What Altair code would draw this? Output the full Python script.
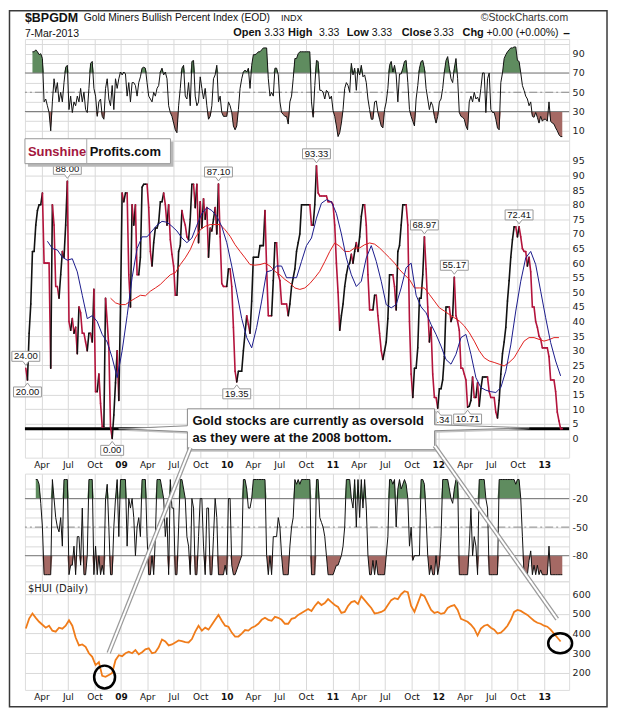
import altair as alt
import numpy as np
import pandas as pd

# ---------------- data ----------------
# every series was read at a regular spacing of ~5.735 days
GRID_START = "2008-02-07"
GRID_FREQ = "8258min"
GRID_LEN = 324

# $BPGDM close (main panel)
BPGDM = [
    24, 20, 36, 46, 64, 64, 73, 78, 80, 80,
    84, 60, 60, 60, 60, 24, 80, 73, 52, 52,
    48, 56, 64, 62, 73, 88, 40, 37, 41, 36,
    38, 29, 45, 43, 36, 36, 33, 30, 36, 36,
    33, 51, 16, 16, 22, 12, 4, 4, 48, 40,
    31, 4, 0, 8, 19, 30, 13, 45, 84, 81,
    84, 84, 56, 45, 80, 73, 80, 56, 56, 62,
    86, 87, 87, 87, 79, 64, 59, 67, 72, 72,
    74, 81, 81, 84, 80, 73, 80, 68, 63, 59,
    49, 49, 64, 66, 78, 75, 73, 69, 68, 75,
    87, 87, 79, 87, 67, 81, 72, 82, 75, 79,
    62, 72, 71, 75, 79, 70, 87.1, 69, 53, 52,
    52, 52, 58, 58, 52, 38, 23, 19.35, 23, 23,
    23, 30, 36, 42, 39, 36, 47, 62, 62, 62,
    62, 66, 66, 66, 78, 58, 42, 42, 42, 54,
    67, 67, 56, 54, 46, 46, 46, 46, 42, 46,
    52, 55, 58, 64, 67, 70, 80, 80, 80, 80,
    80, 80,
    73, 73, 80, 93.33, 84, 83, 83, 83, 83, 83,
    81, 81, 81, 80, 73, 60, 50, 37, 42, 46,
    52, 56, 59, 60, 63, 60, 64, 67, 64, 69,
    76, 80, 80, 73, 56, 44, 44, 44, 49, 49,
    42, 36, 30, 27, 30, 33, 41, 56, 56, 56,
    52, 44, 64, 66, 73, 80, 80, 80, 73, 40,
    22, 14, 24, 24, 31, 48, 48, 56, 68.97, 58,
    45, 33, 38, 22, 14, 14, 10.34, 17, 17, 20,
    28, 45, 45, 45, 40, 42, 55.17, 42, 40, 37,
    24, 24, 22, 20, 10.71, 11, 13, 21, 14, 14,
    19, 11, 17, 21, 21, 21, 21, 16, 14, 14,
    14, 9, 7, 13, 22, 29, 33, 38, 47, 54,
    62, 68, 72.4, 72.4, 69, 72.41, 69, 65, 64, 64,
    59, 62, 57, 45, 45, 40, 38, 35, 34, 31,
    31, 31, 31, 28, 20, 20, 20, 16, 9, 6,
    3.33, 3.33,
]

# short moving average (blue), every 3rd grid step from step 13
MA_FAST = [
    67.5, 65, 64.5, 62, 61, 61.5, 57, 49, 41, 42,
    40, 35.6, 33, 27.6, 20.8, 30, 42, 55, 65, 69,
    69, 71, 73, 74.3, 74, 72.6, 71, 68.6, 67, 68.6,
    73, 77, 79, 78, 76, 72.5, 67, 59, 50, 41,
    34.5, 31, 38, 47, 57, 57.5, 59, 59, 55, 55,
    55, 60.6, 66, 68.6, 75.4, 80.5, 81.7, 81, 77, 70,
    61.8, 56, 52, 53.8, 61.8, 66, 60.6, 53.8, 45.8, 44.7,
    45.8, 51.5, 58.4, 60, 49, 45, 43, 39, 35.6, 31.6,
    27, 25.4, 28.8, 34.5, 35.6, 28.8, 20.8, 17.4, 16.5, 16,
    15.7, 17.4, 23, 32, 43.6, 53.8, 61.8, 64, 59.5, 50.4,
    41.3, 32.8, 26.5, 21.4,
]

# long moving average (red), every 3rd grid step from step 51
MA_SLOW = [
    48, 46.4, 45.8, 45.8, 47, 48, 49, 48.8, 50.4, 51.5,
    52.7, 54.4, 56, 56.7, 59.5, 61.8, 64.6, 68.6, 71.4, 72.6,
    73.2, 73.2, 73.2, 71.4, 69.2, 66.3, 64, 61.8, 59.5, 59.3,
    59.5, 60, 59, 57.2, 56, 54.4, 53.2, 51.5, 51, 51.5,
    53, 55, 57.2, 60.5, 64, 66.9, 65.8, 64, 64, 65.2,
    65.2, 66.3, 66.9, 66.5, 65.2, 63.5, 61.8, 60, 57.8, 56,
    54.4, 51.5, 51.5, 51.5, 49.3, 47, 44.7, 43.6, 42.4, 41.3,
    40.2, 38.5, 36.2, 33.3, 30, 27.6, 26.5, 26, 25.4, 24.8,
    26, 27.6, 30.5, 33.3, 34.5, 34.5, 33.9, 33.3, 33.8, 34.5,
    34.5,
]

# top oscillator (0-100), from grid step 4
OSC = [
    92, 92, 94, 92, 89, 90, 85, 40, 43, 36,
    29, 10, 40, 64, 50, 60, 40, 50, 40, 60,
    76, 78, 32, 46, 29, 40, 36, 46, 40, 54,
    40, 50, 32, 29, 54, 80, 82, 54, 46, 25,
    40, 43, 25, 22, 54, 64, 43, 36, 57, 32,
    64, 54, 64, 71, 68, 71, 69, 46, 60, 40,
    60, 60, 57, 46, 60, 66, 75, 76, 75, 60,
    46, 43, 40, 50, 46, 54, 57, 71, 75, 68,
    71, 64, 36, 29, 25, 18, 11, 8, 36, 54,
    75, 78, 46, 43, 60, 36, 82, 83, 46, 36,
    40, 66, 54, 43, 54, 36, 22, 25, 36, 64,
    68, 78, 40, 46, 29, 25, 25, 25, 40, 36,
    29, 15, 11, 15, 32, 54, 64, 71, 73, 71,
    75, 54, 78, 89, 89, 90, 92, 92, 94, 96,
    96, 96, 64, 46, 50, 46, 75, 75, 68, 40,
    29, 27, 25, 25, 17, 40, 46, 64, 85, 85,
    90, 92, 92, 92, 92, 92, 92, 92,
    40, 24, 57, 83, 82, 52, 52, 50, 43, 52,
    50, 43, 46, 31, 25, 15, 4, 8, 18, 32,
    54, 60, 57, 50, 80, 68, 75, 52, 75, 68,
    78, 66, 68, 60, 43, 32, 22, 22, 40, 41,
    29, 22, 15, 13, 32, 40, 54, 78, 82, 71,
    78, 68, 40, 69, 69, 75, 82, 83, 60, 32,
    25, 20, 15, 43, 57, 75, 82, 83, 75, 54,
    43, 32, 40, 36, 25, 18, 25, 40, 43, 54,
    71, 83, 87, 75, 64, 60, 75, 85, 64, 29,
    25, 24, 22, 15, 11, 40, 46, 40, 50, 43,
    45, 40, 54, 70, 70, 29, 64, 70, 32, 29,
    29, 22, 13, 11, 60, 70, 85, 89, 92, 94,
    96, 96, 97, 97, 83, 82, 70, 57, 52, 46,
    43, 36, 40, 25, 24, 29, 24, 18, 25, 20,
    22, 22, 20, 40, 20, 18, 17, 13, 10, 6,
    4, 4,
]

# %R style oscillator (0 to -100), from grid step 6
WILLR = [
    0, 0, -5, -25, -50, -100, -100, -100, -100, -100,
    0, -20, -40, -50, -55, -40, -70, 0, 0, 0,
    -100, -90, -90, -70, -100, -60, -60, -90, -30, -100,
    -100, -80, 0, 0, 0, -100, -70, -100, -80, -100,
    -90, -100, -20, -5, -50, -100, -100, -50, -20, 0,
    -60, 0, 0, 0, 0, -70, -20, -30, -20, -40,
    -80, -50, -40, -60, 0, 0, 0, -60, -100, -100,
    -80, -100, -60, 0, 0, 0, -10, -20, -60, -40,
    -100, 0, -30, -30, -100, -100, -50, 0, 0, -10,
    -20, -60, -70, -100, -20, -30, -100, -100, -60, -20,
    -20, -70, -100, -30, -30, -100, -100, -60, -20, -40,
    -100, -100, -100, -100, -90, -100, -20, -20, -90, -100,
    -100, -95, -90, -85, -80, 0, 0, -10, -30, -30,
    -20, 0, 0, 0, 0, 0, 0, 0, 0, -80,
    -100, -80, -100, -60, -60, -60, -40, -50, -80, -100,
    -100, -100, -100, -70, -50, -40, 0, -5, 0, -5,
    0, 0, 0, 0, 0, 0,
    -100, -100, -100, 0, 0, -40, -45, -50, -60, -80,
    -100, -100, -100, -100, -95, -90, -90, -85, -80, -70,
    -50, 0, 0, 0, -20, -30, 0, -50, 0, -40,
    0, -30, 0, -30, -80, -100, -100, -85, -100, -85,
    -100, -100, -100, -100, -100, -80, -60, 0, 0, -5,
    0, -50, -10, 0, -10, -5, 0, -5, -20, -70,
    -50, -85, -80, -80, -80, -80, 0, 0, -5, -40,
    -80, -100, -90, -100, -100, -80, -100, -90, -60, 0,
    0, 0, 0, -10, -20, -25, -10, 0, 0, -100,
    -100, -100, -100, -100, -100, -70, -30, -80, -60, -70,
    -100, 0, 0, 0, 0, -20, -30, -100, -100, -100,
    -100, -100, -100, 0, 0, 0, 0, 0, 0, 0,
    0, 0, 0, -5, 0, 0, -20, -60, -100, -100,
    -100, -85, -75, -100, -90, -100, -90, -100, -95, -100,
    -100, -100, -100, -70, -100, -100, -100, -100, -100, -100,
    -100, -100,
]

# $HUI daily, every 2nd grid step
HUI = [
    426, 476, 502, 480, 460, 445, 430, 440, 415, 410,
    430, 425, 440, 468, 440, 380, 340, 345, 333, 300,
    282, 240, 255, 185, 180, 190, 200, 265, 290, 285,
    300, 308, 300, 316, 295, 305, 320, 325, 300, 305,
    330, 370, 360, 340, 345, 355, 365, 362, 357, 355,
    372, 410, 440, 415, 430, 420, 445, 470, 495, 465,
    440, 435, 405, 385, 385, 400, 418, 415, 430, 437,
    450, 470, 480, 470, 465, 485, 480, 470, 450, 450,
    475, 480, 495, 505, 515, 525, 515, 540, 560, 545,
    555, 575, 560, 545, 535, 505, 510, 540, 560, 565,
    550, 590, 570, 550, 530, 502, 505, 510, 520, 545,
    570, 580, 575, 600, 615, 610, 540, 510, 555, 600,
    590, 555, 520, 505, 510, 500, 505, 530, 540, 545,
    520, 475, 468, 460, 445, 425, 390, 425, 440, 445,
    430, 420, 400, 405, 420, 440, 470, 510, 520, 515,
    505, 495, 480, 465, 455, 450, 440, 435, 420, 400,
    380, 360,
]

LABEL_TEXT = ["24.00", "20.00", "88.00", "0.00", "87.10", "19.35",
              "93.33", "68.97", "10.34", "55.17", "10.71", "72.41"]
LABEL_VALUE = [24, 20, 88, 0, 87.1, 19.35, 93.33, 68.97, 10.34, 55.17, 10.71, 72.41]
LABEL_SIDE = ["above", "below", "above", "below", "above", "below",
              "above", "above", "below", "above", "below", "above"]

CIRCLE_DATES = ["2008-11-05", "2013-02-25"]
CIRCLE_HUI = [179, 351]

QUARTERS = [(2008, 4), (2008, 7), (2008, 10)] + \
    [(y, m) for y in range(2009, 2013) for m in (1, 4, 7, 10)] + [(2013, 1)]

# ---------------- frames ----------------
grid = pd.date_range(GRID_START, periods=GRID_LEN, freq=GRID_FREQ)

main = pd.DataFrame({"date": grid[:len(BPGDM)], "v": BPGDM})
dirs, prev = [], "up"
for a, b in zip(BPGDM[:-1], BPGDM[1:]):
    if b > a:
        prev = "up"
    elif b < a:
        prev = "down"
    dirs.append(prev)
seg = pd.DataFrame({"date": main["date"].iloc[:-1].values, "date2": main["date"].iloc[1:].values,
                    "v": BPGDM[:-1], "v2": BPGDM[1:], "dir": dirs})

fast = pd.DataFrame({"date": grid[13::3][:len(MA_FAST)], "v": MA_FAST})
slow = pd.DataFrame({"date": grid[51::3][:len(MA_SLOW)], "v": MA_SLOW})

osc = pd.DataFrame({"date": grid[4:4 + len(OSC)], "v": OSC})
osc["hi"] = np.maximum(osc["v"], 70)
osc["lo"] = np.minimum(osc["v"], 30)

wr = pd.DataFrame({"date": grid[6:6 + len(WILLR)], "v": WILLR})
wr["hi"] = np.maximum(wr["v"], -20)
wr["lo"] = np.minimum(wr["v"], -80)

hui = pd.DataFrame({"date": grid[0::2][:len(HUI)], "v": HUI})

rows = []
for t, lv, side in zip(LABEL_TEXT, LABEL_VALUE, LABEL_SIDE):
    i = next(k for k, v in enumerate(BPGDM) if abs(v - lv) < 1e-9)
    hw = round((len(t.replace(".", "")) * 0.556 + 0.278) * 4.6 + 2.5, 1)
    if side == "above":
        p = f"M {-hw} -17 H {hw} V -7 H 3 L 0 -3 L -3 -7 H {-hw} Z"
    else:
        p = f"M {-hw} 17 H {hw} V 7 H 3 L 0 3 L -3 7 H {-hw} Z"
    rows.append({"date": grid[i], "v": lv, "text": t, "side": side, "path": p})
labels = pd.DataFrame(rows)

circ = pd.DataFrame({"date": pd.to_datetime(CIRCLE_DATES), "v": CIRCLE_HUI,
                     "path": ["M -10.5 0 A 10.5 11.5 0 1 0 10.5 0 A 10.5 11.5 0 1 0 -10.5 0 Z",
                              "M -12 0 A 12 10 0 1 0 12 0 A 12 10 0 1 0 -12 0 Z"]})

ONE = pd.DataFrame({"k": [0]})

# ---------------- styling ----------------
SANS = "Arial, 'Liberation Sans', sans-serif"
AXF = "'DejaVu Sans', Verdana, sans-serif"
GRID_C = "#d9d9d9"
GREEN = "#5f8c5f"
BROWN = "#a56964"
W = 546

XSCALE = alt.Scale(domain=[alt.DateTime(year=2008, month=2, date=4),
                           alt.DateTime(year=2013, month=3, date=28)], nice=False)
QTICKS = [alt.DateTime(year=y, month=m, date=1) for y, m in QUARTERS]
AX_X_GRID = alt.Axis(values=QTICKS, grid=True, gridColor=GRID_C, labels=False,
                     ticks=False, domain=False, title=None)
AX_X_LAB = alt.Axis(values=QTICKS, grid=True, gridColor=GRID_C, ticks=False, domain=False,
                    title=None, labelOverlap=False, labelPadding=3, labelFont=AXF,
                    labelFontSize=9, labelColor="#111",
                    labelExpr="month(datum.value) == 0 ? timeFormat(datum.value, '%y') : timeFormat(datum.value, '%b')",
                    labelFontWeight={"condition": {"test": "month(datum.value) == 0", "value": "bold"},
                                     "value": "normal"})


def yaxis(values, expr=None):
    kw = dict(orient="right", values=values, grid=True, gridColor=GRID_C, ticks=False,
              domain=False, title=None, labelPadding=3, labelFont=AXF, labelFontSize=9.5,
              labelColor="#222")
    if expr:
        kw["labelExpr"] = expr
    return alt.Axis(**kw)


def txt(s, x, y, size, weight="normal", align="left", color="#111", font=SANS):
    return alt.Chart(ONE).mark_text(text=s, fontSize=size, fontWeight=weight, align=align,
                                    baseline="middle", color=color, font=font).encode(
        x=alt.value(x), y=alt.value(y))


# ---------------- panel 1: oscillator ----------------
YS1 = alt.Scale(domain=[-0.3, 105.2], nice=False, zero=False)
AY1 = yaxis(list(range(10, 101, 10)), "datum.value % 20 == 10 ? datum.label : ''")
X1 = alt.X("date:T", scale=XSCALE, axis=AX_X_GRID)

p1_base = alt.Chart(osc)
p1 = alt.layer(
    p1_base.mark_area(color=GREEN).encode(x=X1, y=alt.Y("hi:Q", scale=YS1, axis=AY1), y2=alt.datum(70)),
    p1_base.mark_area(color=BROWN).encode(x=X1, y=alt.Y("lo:Q", scale=YS1, axis=AY1), y2=alt.datum(30)),
    alt.Chart(pd.DataFrame({"y": [70, 30]})).mark_rule(color="#7d7d7d", strokeWidth=1).encode(
        y=alt.Y("y:Q", scale=YS1, axis=AY1)),
    alt.Chart(pd.DataFrame({"y": [50]})).mark_rule(color="#8a8a8a", strokeWidth=1, strokeDash=[8, 3, 2, 3]).encode(
        y=alt.Y("y:Q", scale=YS1, axis=AY1)),
    p1_base.mark_line(color="#111", strokeWidth=1).encode(x=X1, y=alt.Y("v:Q", scale=YS1, axis=AY1)),
    # frame and header
    alt.Chart(ONE).mark_rect(fillOpacity=0, stroke="#3a3a3a", strokeWidth=1.5).encode(
        x=alt.value(-15.5), x2=alt.value(584), y=alt.value(-28.5), y2=alt.value(670)),
    txt("$BPGDM", 0, -21, 12.5, "bold"),
    txt("Gold Miners Bullish Percent Index (EOD)", 59, -21, 10.3),
    txt("INDX", 257, -21, 9),
    txt("\u00a9StockCharts.com", 545, -21, 10.5, align="right", color="#333"),
    txt("7-Mar-2013", 0, -5, 10.5),
    txt("Open", 209, -6, 11, "bold"),
    txt("3.33", 240, -6, 10.5),
    txt("High", 264, -6, 11, "bold"),
    txt("3.33", 295, -6, 10.5),
    txt("Low", 323, -6, 11, "bold"),
    txt("3.33", 348, -6, 10.5),
    txt("Close", 378, -6, 11, "bold"),
    txt("3.33", 410, -6, 10.5),
    txt("Chg", 439, -6, 11, "bold"),
    txt("+0.00 (+0.00%)", 463, -6, 10.5),
    txt("\u2013", 540, -6, 12, "bold"),
).properties(width=W, height=102)

# ---------------- panel 2: main ----------------
YS2 = alt.Scale(domain=[-6.6, 101.9], nice=False, zero=False)
AY2 = yaxis(list(range(0, 100, 5)))
X2 = alt.X("date:T", scale=XSCALE, axis=AX_X_LAB)

CALLOUT = "M 163 269 H 411 V 285 L 506 288 L 411 291 V 310 H 163 V 292 L 94 289 L 163 286 Z"

p2 = alt.layer(
    alt.Chart(pd.DataFrame({"y": [3.33]})).mark_rule(color="#000", strokeWidth=3).encode(
        y=alt.Y("y:Q", scale=YS2, axis=AY2)),
    alt.Chart(seg).mark_rule(strokeWidth=1.6, strokeCap="round").encode(
        x=X2, x2="date2:T", y=alt.Y("v:Q", scale=YS2, axis=AY2), y2="v2:Q",
        color=alt.Color("dir:N", scale=alt.Scale(domain=["up", "down"], range=["#111111", "#b3143c"]),
                        legend=None)),
    alt.Chart(slow).mark_line(color="#e0201e", strokeWidth=1).encode(x=X2, y=alt.Y("v:Q", scale=YS2, axis=AY2)),
    alt.Chart(fast).mark_line(color="#1b1b8c", strokeWidth=1).encode(x=X2, y=alt.Y("v:Q", scale=YS2, axis=AY2)),
    alt.Chart(labels).mark_point(filled=True, color="white", stroke="#9a9a9a", strokeWidth=1,
                                 size=4, opacity=1).encode(
        x=X2, y=alt.Y("v:Q", scale=YS2, axis=AY2), shape=alt.Shape("path:N", scale=None)),
    alt.Chart(labels).transform_filter("datum.side == 'above'").mark_text(
        dy=-12, fontSize=9.5, font=SANS, color="#111").encode(
        x=X2, y=alt.Y("v:Q", scale=YS2, axis=AY2), text="text:N"),
    alt.Chart(labels).transform_filter("datum.side == 'below'").mark_text(
        dy=12, fontSize=9.5, font=SANS, color="#111").encode(
        x=X2, y=alt.Y("v:Q", scale=YS2, axis=AY2), text="text:N"),
    # SunshineProfits logo
    alt.Chart(ONE).mark_rect(color="#b8b8b8").encode(
        x=alt.value(3), x2=alt.value(149), y=alt.value(1), y2=alt.value(26)),
    alt.Chart(ONE).mark_rect(color="white", stroke="#999", strokeWidth=1).encode(
        x=alt.value(0), x2=alt.value(146), y=alt.value(-2), y2=alt.value(23)),
    alt.Chart(ONE).mark_rule(color="#aaa").encode(x=alt.value(62), y=alt.value(-2), y2=alt.value(23)),
    txt("Sunshine", 3, 11.5, 13, "bold", color="#a3173d"),
    txt("Profits.com", 65, 11.5, 13, "bold", color="#111"),
    # callout
    alt.Chart(ONE).mark_point(shape=CALLOUT, size=4, filled=True, color="#c4c4c4", opacity=1).encode(
        x=alt.value(2), y=alt.value(2)),
    alt.Chart(ONE).mark_point(shape=CALLOUT, size=4, filled=True, color="white", stroke="#8a8a8a",
                              strokeWidth=1, opacity=1).encode(x=alt.value(0), y=alt.value(0)),
    txt("Gold stocks are currently as oversold", 168, 281, 13, "bold"),
    txt("as they were at the 2008 bottom.", 168, 298, 13, "bold"),
).properties(width=W, height=318)

spacer = alt.Chart(ONE).mark_text(text="").encode(x=alt.value(0), y=alt.value(0)).properties(
    width=W, height=16, view=alt.ViewBackground(stroke="transparent"))

# ---------------- panel 3: %R ----------------
YS3 = alt.Scale(domain=[-106.9, 6.2], nice=False, zero=False)
AY3 = yaxis(list(range(-90, 0, 10)),
            "(datum.value == -20 || datum.value == -50 || datum.value == -80) ? '' + datum.value : ''")
X3 = alt.X("date:T", scale=XSCALE, axis=AX_X_GRID)
p3_base = alt.Chart(wr)
p3 = alt.layer(
    p3_base.mark_area(color=GREEN).encode(x=X3, y=alt.Y("hi:Q", scale=YS3, axis=AY3), y2=alt.datum(-20)),
    p3_base.mark_area(color=BROWN).encode(x=X3, y=alt.Y("lo:Q", scale=YS3, axis=AY3), y2=alt.datum(-80)),
    alt.Chart(pd.DataFrame({"y": [-20, -80]})).mark_rule(color="#7d7d7d", strokeWidth=1).encode(
        y=alt.Y("y:Q", scale=YS3, axis=AY3)),
    alt.Chart(pd.DataFrame({"y": [-50]})).mark_rule(color="#8a8a8a", strokeWidth=1, strokeDash=[8, 3, 2, 3]).encode(
        y=alt.Y("y:Q", scale=YS3, axis=AY3)),
    p3_base.mark_line(color="#111", strokeWidth=1).encode(x=X3, y=alt.Y("v:Q", scale=YS3, axis=AY3)),
).properties(width=W, height=108)

# ---------------- panel 4: $HUI ----------------
YS4 = alt.Scale(domain=[113.9, 665.8], nice=False, zero=False)
AY4 = yaxis([200, 300, 400, 500, 600])
X4 = alt.X("date:T", scale=XSCALE, axis=AX_X_LAB)
p4 = alt.layer(
    alt.Chart(hui).mark_line(color="#f07c1a", strokeWidth=1.8).encode(
        x=X4, y=alt.Y("v:Q", scale=YS4, axis=AY4)),
    alt.Chart(circ).mark_point(size=4, filled=False, color="#000", strokeWidth=2.5, opacity=1).encode(
        x=X4, y=alt.Y("v:Q", scale=YS4, axis=AY4), shape=alt.Shape("path:N", scale=None)),
    txt("$HUI (Daily)", 3, 8, 10, font=AXF, color="#222"),
    # pointer lines from the callout
    alt.Chart(ONE).mark_rule(color="#9a9a9a", strokeWidth=4.5).encode(
        x=alt.value(166), y=alt.value(-134), x2=alt.value(84), y2=alt.value(72)),
    alt.Chart(ONE).mark_rule(color="#ffffff", strokeWidth=2).encode(
        x=alt.value(166), y=alt.value(-134), x2=alt.value(84), y2=alt.value(72)),
    alt.Chart(ONE).mark_rule(color="#9a9a9a", strokeWidth=4.5).encode(
        x=alt.value(411), y=alt.value(-136), x2=alt.value(534), y2=alt.value(38)),
    alt.Chart(ONE).mark_rule(color="#ffffff", strokeWidth=2).encode(
        x=alt.value(411), y=alt.value(-136), x2=alt.value(534), y2=alt.value(38)),
).properties(width=W, height=109)

chart = alt.vconcat(p1, p2, spacer, p3, p4, spacing=0, bounds="flush").properties(
    padding=0
).configure_view(stroke="#a0a0a0").configure(background="white")

chart.save("out.html", embed_options={"renderer": "svg", "actions": False})
